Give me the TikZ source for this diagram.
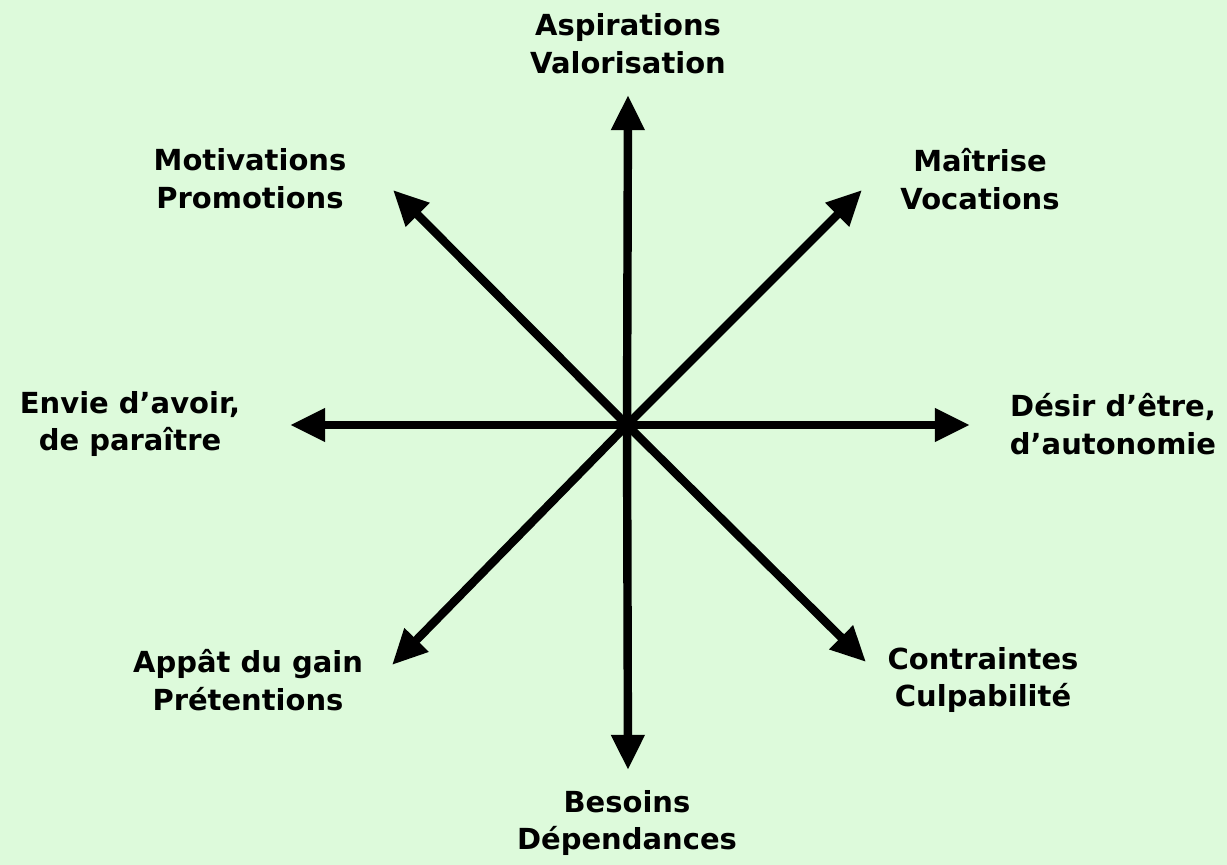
\documentclass[tikz,border=0pt]{standalone}
\usepackage{fontspec}
\setmainfont{DejaVu Sans}
\usetikzlibrary{arrows.meta}
\definecolor{bgcol}{RGB}{221,250,219}
\tikzset{
  axis/.style={line width=4.8pt, -{Triangle[length=20pt,width=18pt]}},
  lbl/.style={align=center, inner sep=0pt, font=\fontsize{16.5}{21.5}\selectfont\bfseries}
}
\begin{document}
\begin{tikzpicture}[x=0.02cm,y=-0.02cm]
\fill[bgcol] (0,0) rectangle (1227,865);
\useasboundingbox (0,0) rectangle (1227,865);
\coordinate (c) at (627,425);
\coordinate (tN) at (628,95);
\coordinate (tS) at (628,770);
\coordinate (tE) at (970,425);
\coordinate (tW) at (290,425);
\coordinate (tNE) at (862,190);
\coordinate (tNW) at (393,190);
\coordinate (tSE) at (866,662);
\coordinate (tSW) at (392,665);
\foreach \t in {tN,tS,tE,tW,tNE,tNW,tSE,tSW}
  \draw[axis] (c) -- (\t);
\fill (c) circle (9);
\node[lbl] (lN) at (628,44) {Aspirations\\Valorisation};
\node[lbl] (lNW) at (250,179) {Motivations\\Promotions};
\node[lbl] (lNE) at (980,179) {Maîtrise\\Vocations};
\node[lbl] (lW) at (130,424) {Envie d’avoir,\\de paraître};
\node[lbl] (lE) at (1113,424) {Désir d’être,\\d’autonomie};
\node[lbl] (lSW) at (248,680) {Appât du gain\\Prétentions};
\node[lbl] (lSE) at (983,680) {Contraintes\\Culpabilité};
\node[lbl] (lS) at (627,823) {Besoins\\Dépendances};
\end{tikzpicture}
\end{document}
